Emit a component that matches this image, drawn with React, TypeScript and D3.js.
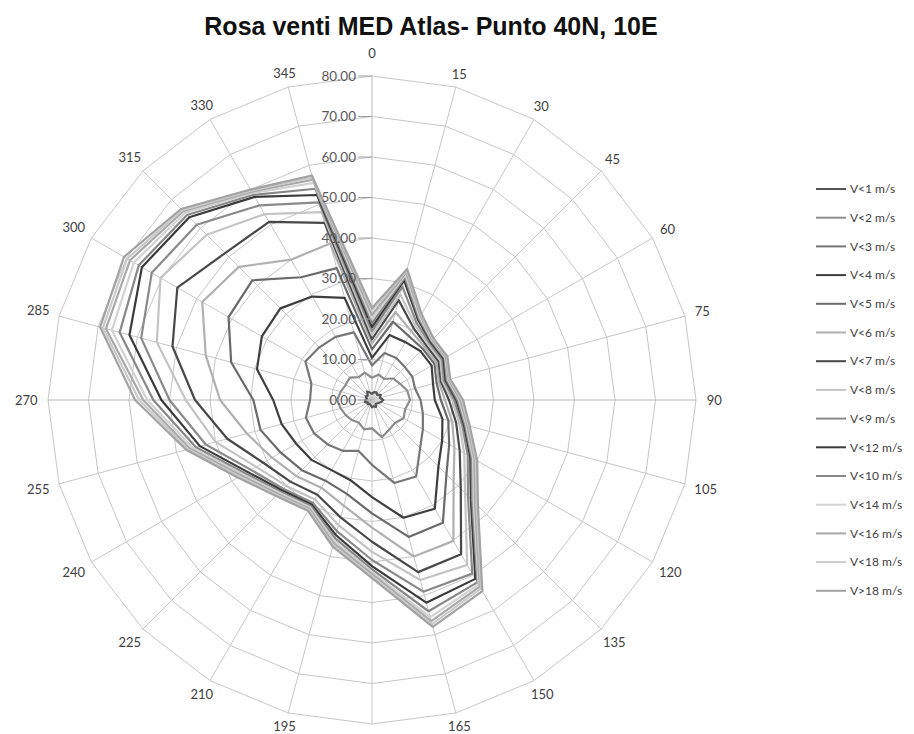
import React from 'react';
import * as d3 from 'd3';

// direction of the wind (degrees)
const directions = [0, 15, 30, 45, 60, 75, 90, 105, 120, 135, 150, 165, 180, 195, 210, 225, 240, 255, 270, 285, 300, 315, 330, 345];

const seriesNames = ['V<1 m/s', 'V<2 m/s', 'V<3 m/s', 'V<4 m/s', 'V<5 m/s', 'V<6 m/s', 'V<7 m/s', 'V<8 m/s', 'V<9 m/s', 'V<12 m/s', 'V<10 m/s', 'V<14 m/s', 'V<16 m/s', 'V<18 m/s', 'V>18 m/s'];
const seriesColors = ['#555555', '#8c8c8c', '#767676', '#3e3e3e', '#6a6a6a', '#b0b0b0', '#484848', '#c4c4c4', '#8a8a8a', '#3a3a3a', '#888888', '#d2d2d2', '#a8a8a8', '#cacaca', '#a2a2a2'];

// values read for each series, one per direction
const v1 = [1.5, 2.0, 2.2, 1.8, 2.5, 2.0, 2.8, 2.2, 1.6, 1.3, 2.0, 1.6, 1.8, 1.3, 1.1, 1.5, 1.2, 1.8, 1.6, 1.3, 1.8, 1.5, 2.4, 1.9];
const v2 = [5.5, 6.5, 6.0, 7.5, 8.0, 9.0, 9.4, 8.5, 9.0, 8.0, 8.5, 9.5, 7.0, 7.5, 6.5, 7.0, 7.5, 8.0, 8.6, 8.0, 7.5, 7.8, 6.5, 7.0];
const v3 = [8.5, 12.0, 12.0, 11.5, 11.5, 11.0, 12.0, 13.0, 14.5, 16.8, 21.8, 21.2, 16.0, 13.0, 14.5, 15.5, 16.5, 16.9, 15.3, 15.5, 19.0, 18.4, 18.0, 17.3];
const v4 = [10.4, 16.6, 16.5, 17.0, 17.0, 15.6, 15.5, 18.0, 20.0, 23.2, 31.0, 30.1, 24.0, 20.5, 20.0, 21.0, 21.6, 23.1, 24.4, 29.4, 31.4, 32.0, 29.5, 26.1];
const v5 = [12.5, 20.0, 18.2, 17.8, 17.8, 16.5, 17.0, 19.5, 22.0, 26.0, 35.0, 35.0, 28.0, 24.0, 23.0, 24.5, 26.0, 28.5, 29.3, 36.0, 40.9, 41.8, 35.0, 33.7];
const v6 = [14.0, 22.5, 19.5, 18.4, 18.4, 17.1, 18.0, 20.5, 23.5, 28.5, 40.2, 40.0, 31.5, 27.0, 25.0, 26.5, 28.5, 32.0, 37.5, 42.5, 48.4, 46.5, 40.0, 40.0];
const v7 = [15.0, 25.5, 20.5, 19.0, 19.0, 17.6, 19.0, 21.5, 25.0, 31.0, 44.0, 44.0, 35.0, 30.0, 27.0, 28.5, 31.0, 37.0, 43.7, 51.0, 55.5, 51.3, 50.8, 45.3];
const v8 = [16.0, 27.0, 21.3, 19.5, 19.5, 18.0, 19.8, 22.3, 26.3, 32.5, 47.0, 46.0, 37.5, 32.0, 28.3, 30.0, 33.0, 40.0, 46.0, 55.0, 60.3, 57.7, 53.0, 48.0];
const v9 = [17.0, 29.0, 22.0, 20.0, 20.0, 18.4, 20.3, 23.0, 27.3, 33.5, 49.5, 49.0, 39.5, 33.5, 29.3, 31.0, 34.5, 42.5, 50.0, 59.0, 62.8, 61.2, 55.5, 50.5];
const v12 = [18.0, 30.6, 22.8, 20.4, 20.4, 18.8, 20.8, 23.5, 28.0, 34.5, 51.0, 51.8, 41.0, 34.5, 29.8, 31.5, 35.5, 44.0, 52.0, 62.0, 65.6, 63.8, 57.9, 52.4];
const v10 = [19.0, 31.3, 23.2, 20.7, 20.7, 19.1, 21.1, 23.8, 28.4, 35.0, 52.0, 54.0, 41.8, 35.3, 30.2, 32.0, 36.2, 45.0, 54.0, 64.5, 66.5, 64.6, 58.5, 54.0];
const v14 = [20.0, 32.0, 23.6, 20.9, 20.9, 19.4, 21.5, 24.1, 28.8, 35.5, 52.6, 55.5, 42.5, 36.0, 30.6, 32.4, 36.8, 45.8, 55.5, 66.5, 67.9, 65.3, 59.0, 55.5];
const v16 = [21.0, 32.6, 24.0, 21.1, 21.1, 19.6, 21.8, 24.4, 29.2, 36.0, 53.2, 56.5, 43.0, 36.6, 31.0, 32.8, 37.3, 46.5, 56.5, 68.0, 69.0, 65.9, 59.4, 56.3];
const v18 = [22.0, 33.1, 24.3, 21.3, 21.3, 19.8, 22.2, 24.7, 29.6, 36.5, 53.8, 57.3, 43.5, 37.1, 31.3, 33.2, 37.8, 47.0, 57.5, 68.8, 69.8, 66.3, 59.7, 56.9];
const vOver18 = [22.7, 33.5, 24.5, 21.5, 21.5, 20.0, 22.5, 25.0, 30.0, 37.0, 54.5, 58.0, 44.0, 37.5, 31.6, 33.5, 38.3, 47.5, 58.5, 69.5, 70.7, 66.7, 60.0, 57.4];

const seriesValues = [v1, v2, v3, v4, v5, v6, v7, v8, v9, v12, v10, v14, v16, v18, vOver18];

const radialTicks = [0, 10, 20, 30, 40, 50, 60, 70, 80];

const W = 914;
const H = 734;
const cx = 372;
const cy = 400;
const R = 324;
const labelFont = 'Lato, "Open Sans", sans-serif';

export default function App() {
  const r = d3.scaleLinear().domain([0, 80]).range([0, R]);
  const ang = d3.scaleLinear().domain([0, 360]).range([0, 2 * Math.PI]);

  const line = d3.lineRadial<number>()
    .angle((d, i) => ang(directions[i]))
    .radius(d => r(d))
    .curve(d3.curveLinearClosed);

  const gridLine = d3.lineRadial<number>()
    .angle(d => ang(d))
    .radius(0)
    .curve(d3.curveLinearClosed);

  const pt = (deg: number, rad: number) => {
    const a = ang(deg);
    return [Math.sin(a) * rad, -Math.cos(a) * rad];
  };

  return (
    <svg width={W} height={H} style={{ position: 'absolute', left: 0, top: 0, background: '#fff' }}>
      <text x={431} y={35} textAnchor="middle" fontFamily='"Liberation Sans", Arial, sans-serif'
        fontWeight="bold" fontSize={25} fill="#111">Rosa venti MED Atlas- Punto 40N, 10E</text>

      <g transform={`translate(${cx},${cy})`}>
        {/* polygon rings */}
        {radialTicks.slice(1).map(t => (
          <path key={'ring' + t}
            d={gridLine.radius(r(t))(directions) || ''}
            fill="none" stroke="#c6c6c6" strokeWidth={1} />
        ))}
        {/* spokes */}
        {directions.map(d => {
          const [x, y] = pt(d, R);
          return <line key={'sp' + d} x1={0} y1={0} x2={x} y2={y}
            stroke={d === 0 || d === 90 || d === 270 ? '#b8b8b8' : '#c6c6c6'} strokeWidth={1} />;
        })}

        {/* series */}
        {seriesValues.map((vals, i) => (
          <path key={seriesNames[i]} d={line(vals) || ''} fill="none"
            stroke={seriesColors[i]} strokeWidth={2.2} strokeLinejoin="round" />
        ))}

        {/* radial axis */}
        {radialTicks.map(t => (
          <g key={'rt' + t} transform={`translate(0,${-r(t)})`}>
            <line x1={-14} x2={0} y1={0} y2={0} stroke="#a0a0a0" strokeWidth={1} />
            <text x={-16} y={0} dy="0.35em" textAnchor="end" fontFamily={labelFont}
              fontSize={13.5} fill="#595959">{t.toFixed(2)}</text>
          </g>
        ))}

        {/* direction labels */}
        {directions.map(d => {
          const a = ang(d);
          const label = String(d);
          const hw = label.length * 3.6;
          const rad = (d === 0 || d === 180 ? 347 : 335) + hw * Math.abs(Math.sin(a));
          const [x, y] = pt(d, rad);
          return <text key={'lab' + d} x={x} y={y} dy="0.35em" textAnchor="middle"
            fontFamily={labelFont} fontSize={13} fill="#404040">{label}</text>;
        })}
      </g>

      {/* legend */}
      <g transform="translate(816,189)">
        {seriesNames.map((name, i) => (
          <g key={'lg' + name} transform={`translate(0,${i * 28.7})`}>
            <line x1={0} x2={30} y1={0} y2={0} stroke={seriesColors[i]} strokeWidth={2} />
            <text x={34} y={0} dy="0.35em" fontFamily={labelFont} fontSize={12}
              fill="#404040">{name}</text>
          </g>
        ))}
      </g>
    </svg>
  );
}
